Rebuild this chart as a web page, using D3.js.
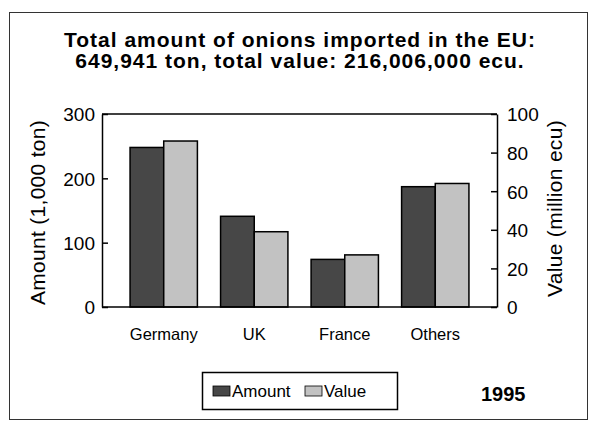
<!DOCTYPE html>
<html>
<head>
<meta charset="utf-8">
<script src="https://cdn.jsdelivr.net/npm/d3@7"></script>
<style>
  body { margin: 0; background: #fff; }
  svg { font-family: "Liberation Sans", Arial, Helvetica, sans-serif; }
  .axis path { stroke: #000; stroke-width: 1.5px; }
  .axis line { stroke: #000; stroke-width: 1.5px; }
  .axis text { font-size: 19px; fill: #000; }
</style>
</head>
<body>
<svg id="chart" width="591" height="422"></svg>
<script>
// Data
const countries = ['Germany', 'UK', 'France', 'Others'];
const amounts = [248, 141, 74, 187];   // 1,000 ton
const values = [86, 39, 27, 64];       // million ecu
const amountTicks = [0, 100, 200, 300];
const valueTicks = [0, 20, 40, 60, 80, 100];
const seriesNames = ['Amount', 'Value'];
const seriesColors = ['#474747', '#c2c2c2'];

const width = 591;
const height = 422;
const margin = { left: 102, right: 94, top: 114, bottom: 115 };
const drawWidth = width - margin.left - margin.right;
const drawHeight = height - margin.top - margin.bottom;

const svg = d3.select('#chart');

// Outer frame
svg.append('rect')
  .attr('x', 9.5).attr('y', 12.5)
  .attr('width', 578).attr('height', 407)
  .attr('fill', 'none')
  .attr('stroke', '#333')
  .attr('stroke-width', 1);

// Title
const title = svg.append('text')
  .attr('text-anchor', 'middle')
  .style('font-size', '21px')
  .style('font-weight', 'bold')
  .style('letter-spacing', '1px');
title.append('tspan').attr('x', 300).attr('y', 47)
  .text('Total amount of onions imported in the EU:');
title.append('tspan').attr('x', 300).attr('y', 68)
  .text('649,941 ton, total value: 216,006,000 ecu.');

// Scales
const xScale = d3.scaleBand()
  .domain(countries)
  .range([0, drawWidth])
  .paddingInner(0.256)
  .paddingOuter(0.31);
const yLeft = d3.scaleLinear().domain([0, 300]).range([drawHeight, 0]);
const yRight = d3.scaleLinear().domain([0, 100]).range([drawHeight, 0]);

const chart = svg.append('g')
  .attr('transform', `translate(${margin.left},${margin.top})`);

// Bars
const half = xScale.bandwidth() / 2;
const groups = chart.selectAll('g.country')
  .data(countries.map((c, i) => ({ c, a: amounts[i], v: values[i] })))
  .enter().append('g')
  .attr('class', 'country')
  .attr('transform', d => `translate(${xScale(d.c)},0)`);

groups.append('rect')
  .attr('x', 0)
  .attr('y', d => yLeft(d.a))
  .attr('width', half)
  .attr('height', d => drawHeight - yLeft(d.a))
  .attr('fill', seriesColors[0])
  .attr('stroke', '#000')
  .attr('stroke-width', 1.5);

groups.append('rect')
  .attr('x', half)
  .attr('y', d => yRight(d.v))
  .attr('width', half)
  .attr('height', d => drawHeight - yRight(d.v))
  .attr('fill', seriesColors[1])
  .attr('stroke', '#000')
  .attr('stroke-width', 1.5);

// Frame: top and bottom lines
chart.append('line')
  .attr('x1', 0).attr('x2', drawWidth).attr('y1', 0).attr('y2', 0)
  .attr('stroke', '#000').attr('stroke-width', 1.5);
chart.append('line')
  .attr('x1', 0).attr('x2', drawWidth).attr('y1', drawHeight).attr('y2', drawHeight)
  .attr('stroke', '#000').attr('stroke-width', 1.5);

// Axes (ticks pointing inward)
chart.append('g')
  .attr('class', 'axis')
  .call(d3.axisLeft(yLeft).tickValues(amountTicks).tickSizeInner(-6).tickSizeOuter(0).tickPadding(7))
  .call(g => g.selectAll('text').attr('dy', '0.36em'));

chart.append('g')
  .attr('class', 'axis')
  .attr('transform', `translate(${drawWidth},0)`)
  .call(d3.axisRight(yRight).tickValues(valueTicks).tickSizeInner(-6).tickSizeOuter(0).tickPadding(10))
  .call(g => g.selectAll('text').attr('dy', '0.36em'));

// Category labels
chart.append('g')
  .attr('class', 'axis cat')
  .attr('transform', `translate(0,${drawHeight})`)
  .call(d3.axisBottom(xScale).tickSize(0).tickPadding(21))
  .call(g => g.select('.domain').remove())
  .call(g => g.selectAll('text').style('font-size', '16.5px'));

// Axis titles
svg.append('text')
  .attr('transform', `translate(45,${margin.top + drawHeight / 2 + 2}) rotate(-90)`)
  .attr('text-anchor', 'middle')
  .style('font-size', '21px')
  .style('letter-spacing', '0.3px')
  .text('Amount (1,000 ton)');

svg.append('text')
  .attr('transform', `translate(562,${margin.top + drawHeight / 2 - 2}) rotate(-90)`)
  .attr('text-anchor', 'middle')
  .style('font-size', '21px')
  .style('letter-spacing', '0.3px')
  .text('Value (million ecu)');

// Legend
const legend = svg.append('g').attr('transform', 'translate(202,372)');
legend.append('rect')
  .attr('x', 0.5).attr('y', 0.5)
  .attr('width', 195).attr('height', 37)
  .attr('fill', '#fff')
  .attr('stroke', '#000')
  .attr('stroke-width', 1.5);

const legendX = [11, 103];
seriesNames.forEach((name, i) => {
  legend.append('rect')
    .attr('x', legendX[i]).attr('y', 14)
    .attr('width', 17).attr('height', 10)
    .attr('fill', seriesColors[i])
    .attr('stroke', '#000')
    .attr('stroke-width', 0.8);
  legend.append('text')
    .attr('x', legendX[i] + 19).attr('y', 25)
    .style('font-size', '17px')
    .text(name);
});

svg.append('text')
  .attr('x', 481).attr('y', 401)
  .style('font-size', '20px')
  .style('font-weight', 'bold')
  .text('1995');
</script>
</body>
</html>
